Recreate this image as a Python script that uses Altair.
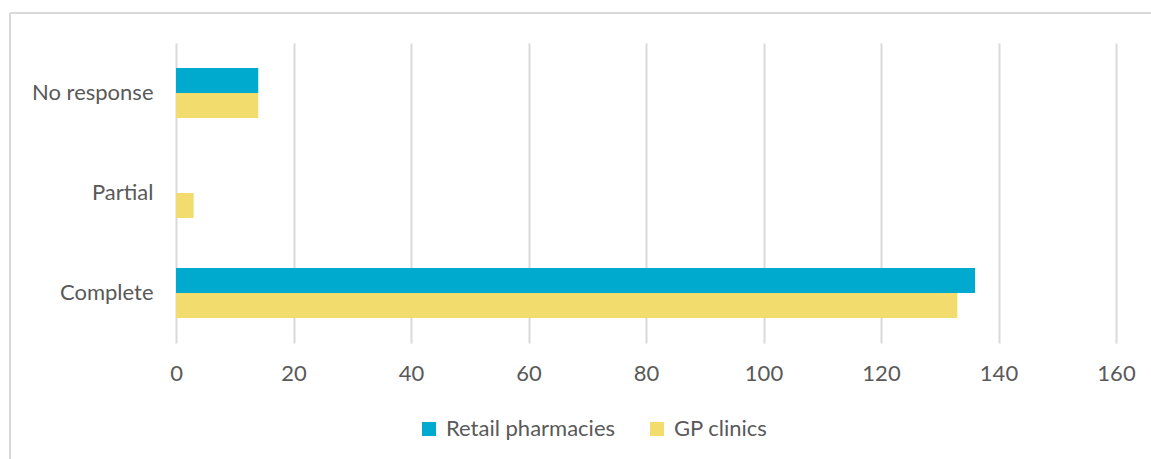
import altair as alt
import pandas as pd

categories = ["No response", "Partial", "Complete"]
series = ["Retail pharmacies", "GP clinics"]
retail = [14, 0, 136]
gp = [14, 3, 133]
x_ticks = [0, 20, 40, 60, 80, 100, 120, 140, 160]

rows = []
for c, r, g in zip(categories, retail, gp):
    rows.append({"category": c, "series": series[0], "value": r})
    rows.append({"category": c, "series": series[1], "value": g})
df = pd.DataFrame(rows)

FONT = "Lato"
GREY = "#595959"
FS = 22

bars = alt.Chart(df).mark_bar().encode(
    x=alt.X("value:Q", scale=alt.Scale(domain=[0, 160], nice=False),
            axis=alt.Axis(values=x_ticks, title=None, grid=True, gridColor="#d9d9d9",
                          gridWidth=2, domain=False, ticks=False, labelPadding=20,
                          labelFlush=False,
                          labelFontSize=FS, labelColor=GREY, labelFont=FONT)),
    y=alt.Y("category:N", sort=categories,
            scale=alt.Scale(paddingInner=0.5, paddingOuter=0.25),
            axis=alt.Axis(title=None, domain=False, ticks=False, labelPadding=23,
                          labelFontSize=FS, labelColor=GREY, labelFont=FONT)),
    yOffset=alt.YOffset("series:N", sort=series, scale=alt.Scale(paddingInner=0, paddingOuter=0)),
    color=alt.Color("series:N", sort=series,
                    scale=alt.Scale(domain=series, range=["#00A9CE", "#F2DC6D"]),
                    legend=alt.Legend(title=None, orient="none", direction="horizontal",
                                      legendX=242, legendY=375, symbolType="square",
                                      symbolSize=196, symbolStrokeWidth=0, labelFontSize=FS,
                                      labelColor=GREY, labelFont=FONT, columnPadding=30,
                                      labelOffset=6, labelLimit=400)),
)

frame_df = pd.DataFrame({"k": [0]})
top_line = alt.Chart(frame_df).mark_rule(color="#d9d9d9", strokeWidth=2).encode(
    x=alt.value(-166), x2=alt.value(990), y=alt.value(-30)
)
left_line = alt.Chart(frame_df).mark_rule(color="#d9d9d9", strokeWidth=2).encode(
    x=alt.value(-166), y=alt.value(-30), y2=alt.value(430)
)

chart = alt.layer(bars, top_line, left_line).properties(
    width=940, height=300,
    autosize=alt.AutoSizeParams(type="none"),
    padding={"left": 176, "top": 43, "right": 35, "bottom": 116},
).configure_view(stroke=None)

chart.save("out.html", embed_options={"renderer": "svg", "actions": False})
